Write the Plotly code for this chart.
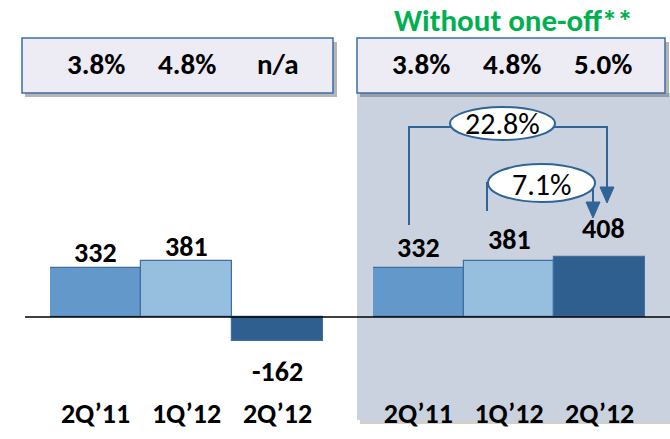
import plotly.graph_objects as go

categories = ["2Q\u201911", "1Q\u201912", "2Q\u201912"]
reported = [332, 381, -162]
without_one_off = [332, 381, 408]
margin_reported = ["3.8%", "4.8%", "n/a"]
margin_adjusted = ["3.8%", "4.8%", "5.0%"]
growth_labels = ["22.8%", "7.1%"]
bar_colors = ["#6398CB", "#95BEDF", "#2F5F8F"]

W, H = 670, 439
FONT = "Carlito, Lato, Liberation Sans, sans-serif"
LINE = "#2F6497"

def px(x):
    return x / W

def py(y):
    return 1 - y / H

fig = go.Figure()
fig.add_trace(go.Bar(x=categories, y=reported, xaxis="x", yaxis="y",
                     marker=dict(color=bar_colors, line=dict(color="#3F6F9F", width=1.2)),
                     showlegend=False, hoverinfo="skip"))
fig.add_trace(go.Bar(x=categories, y=without_one_off, xaxis="x2", yaxis="y",
                     marker=dict(color=bar_colors, line=dict(color="#3F6F9F", width=1.2)),
                     showlegend=False, hoverinfo="skip"))

shapes = []
# grey panel (with soft shadow)
shapes.append(dict(type="rect", xref="paper", yref="paper", x0=px(360), x1=px(673), y0=py(424), y1=py(93),
                   fillcolor="rgba(120,120,120,0.35)", line=dict(width=0), layer="below"))
shapes.append(dict(type="rect", xref="paper", yref="paper", x0=px(357), x1=px(670), y0=py(420), y1=py(93),
                   fillcolor="#CBD2DF", line=dict(width=0), layer="below"))
# top boxes with shadow
for x0, x1 in [(22, 333), (357, 665)]:
    shapes.append(dict(type="rect", xref="paper", yref="paper", x0=px(x0 + 3), x1=px(x1 + 4), y0=py(97), y1=py(42),
                       fillcolor="rgba(90,90,90,0.45)", line=dict(width=0), layer="below"))
    shapes.append(dict(type="rect", xref="paper", yref="paper", x0=px(x0), x1=px(x1), y0=py(93), y1=py(38),
                       fillcolor="#EDEBF3", line=dict(color="#3B6EA8", width=1.5), layer="below"))
# baseline
shapes.append(dict(type="line", xref="paper", yref="paper", x0=px(25), x1=px(670), y0=py(317), y1=py(317),
                   line=dict(color="black", width=1.5), layer="above"))
# growth connectors
def path(pts):
    return "M " + " L ".join(f"{px(x)},{py(y)}" for x, y in pts)

shapes.append(dict(type="path", xref="paper", yref="paper", path=path([(409, 225), (409, 127), (607, 127), (607, 190)]),
                   line=dict(color=LINE, width=2)))
shapes.append(dict(type="path", xref="paper", yref="paper", path=path([(487, 211), (487, 183), (593, 183), (593, 205)]),
                   line=dict(color=LINE, width=2)))
shapes.append(dict(type="path", xref="paper", yref="paper", path=path([(600, 187), (614, 187), (607, 203)]) + " Z",
                   fillcolor=LINE, line=dict(color=LINE, width=1)))
shapes.append(dict(type="path", xref="paper", yref="paper", path=path([(586, 202), (600, 202), (593, 218)]) + " Z",
                   fillcolor=LINE, line=dict(color=LINE, width=1)))
shapes.append(dict(type="circle", xref="paper", yref="paper", x0=px(450), x1=px(555), y0=py(140), y1=py(107),
                   fillcolor="white", line=dict(color=LINE, width=2)))
shapes.append(dict(type="circle", xref="paper", yref="paper", x0=px(488), x1=px(595), y0=py(202), y1=py(164),
                   fillcolor="white", line=dict(color=LINE, width=2)))

ann = []
bold = dict(family=FONT, size=28, color="black", weight="bold")
boldbox = dict(family=FONT, size=29, color="black", weight="bold")
# value labels
left_shift = [16, 14, -31]
for c, v, s in zip(categories, reported, left_shift):
    ann.append(dict(x=c, y=v, xref="x", yref="y", text=str(v), showarrow=False, xanchor="center",
                    yanchor="middle", yshift=s, font=bold))
right_shift = [21, 21, 29]
right_xshift = [0, 0, 4]
for c, v, s, xs in zip(categories, without_one_off, right_shift, right_xshift):
    ann.append(dict(x=c, y=v, xref="x2", yref="y", text=str(v), showarrow=False, xanchor="center",
                    yanchor="middle", yshift=s, xshift=xs, font=bold))
# margins in boxes
for c, t in zip(categories, margin_reported):
    ann.append(dict(x=c, y=py(64), xref="x", yref="paper", text=t, showarrow=False, xanchor="center",
                    yanchor="middle", font=boldbox))
for c, t in zip(categories, margin_adjusted):
    ann.append(dict(x=c, y=py(64), xref="x2", yref="paper", text=t, showarrow=False, xanchor="center",
                    yanchor="middle", xshift=3, font=boldbox))
# growth labels
ann.append(dict(x=px(502), y=py(124), xref="paper", yref="paper", text=growth_labels[0], showarrow=False,
                xanchor="center", yanchor="middle", font=dict(family=FONT, size=30, color="black")))
ann.append(dict(x=px(541), y=py(184), xref="paper", yref="paper", text=growth_labels[1], showarrow=False,
                xanchor="center", yanchor="middle", font=dict(family=FONT, size=30, color="black")))
# title
ann.append(dict(x=px(513), y=py(20), xref="paper", yref="paper", text="Without one-off**", showarrow=False,
                xanchor="center", yanchor="middle",
                font=dict(family=FONT, size=31, color="#00B050", weight="bold")))

scale = 0.147
ybot = 394
ymin = (317 - ybot) / scale
ymax = 317 / scale

axis_common = dict(type="category", showgrid=False, zeroline=False, showline=False, ticks="",
                   tickfont=dict(family=FONT, size=28, color="black", weight="bold"), fixedrange=True)
fig.update_layout(
    width=W, height=H, margin=dict(l=0, r=0, t=0, b=0),
    paper_bgcolor="white", plot_bgcolor="rgba(0,0,0,0)",
    bargap=0, barmode="group",
    xaxis=dict(domain=[px(50), px(323)], anchor="y", **axis_common),
    xaxis2=dict(domain=[px(373), px(645)], anchor="y", **axis_common),
    yaxis=dict(domain=[py(ybot), 1], range=[ymin, ymax], visible=False, fixedrange=True),
    shapes=shapes, annotations=ann,
)
fig.write_html("out.html", config={"displayModeBar": False},
               post_script="document.body.style.margin='0px';")
